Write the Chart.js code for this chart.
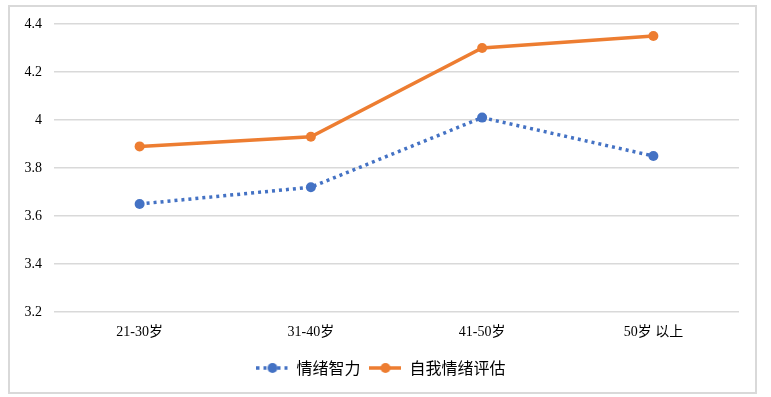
<!DOCTYPE html>
<html>
<head>
<meta charset="utf-8">
<script src="https://cdn.jsdelivr.net/npm/chart.js@4/dist/chart.umd.min.js"></script>
<style>
  html, body { margin: 0; padding: 0; background: #fff; }
  #wrap { position: relative; width: 771px; height: 397px; }
</style>
</head>
<body>
<div id="wrap"><canvas id="myChart" width="771" height="397"></canvas></div>
<script>
// data
var categories = ['21-30岁', '31-40岁', '41-50岁', '50岁 以上'];
var emotionalIntel = [3.65, 3.72, 4.01, 3.85];
var selfAssessment = [3.89, 3.93, 4.30, 4.35];
var yTicks = [3.2, 3.4, 3.6, 3.8, 4, 4.2, 4.4];

var BLUE = '#4472c4';
var ORANGE = '#ed7d31';
var SERIF = '"Liberation Serif", "Noto Sans CJK SC", serif';
var SANS = '"Noto Sans CJK SC", sans-serif';

// little line+dot sample used as the legend symbol
function legendIcon(color, dash){
  var c = document.createElement('canvas');
  c.width = 32; c.height = 12;
  var g = c.getContext('2d');
  g.strokeStyle = color;
  g.lineWidth = 3.5;
  g.setLineDash(dash);
  g.beginPath();
  g.moveTo(0, 6);
  g.lineTo(32, 6);
  g.stroke();
  g.fillStyle = color;
  g.beginPath();
  g.arc(16, 6, 5, 0, Math.PI * 2);
  g.fill();
  return c;
}

var frame = {
  id: 'frame',
  beforeDraw: function(chart){
    var ctx = chart.ctx;
    ctx.save();
    ctx.fillStyle = '#fff';
    ctx.fillRect(0, 0, chart.width, chart.height);
    ctx.strokeStyle = '#d9d9d9';
    ctx.lineWidth = 2;
    ctx.strokeRect(9, 6, 747, 387);
    ctx.restore();
  }
};

var ctx = document.getElementById('myChart').getContext('2d');
var myChart = new Chart(ctx, {
  type: 'line',
  data: {
    labels: categories,
    datasets: [{
      label: '情绪智力',
      data: emotionalIntel,
      borderColor: BLUE,
      backgroundColor: BLUE,
      borderWidth: 3.5,
      borderDash: [3, 4],
      borderCapStyle: 'butt',
      pointRadius: 5,
      pointBorderWidth: 0,
      pointStyle: 'circle',
      tension: 0
    }, {
      label: '自我情绪评估',
      data: selfAssessment,
      borderColor: ORANGE,
      backgroundColor: ORANGE,
      borderWidth: 3.5,
      pointRadius: 5,
      pointBorderWidth: 0,
      pointStyle: 'circle',
      tension: 0
    }]
  },
  options: {
    responsive: false,
    animation: false,
    layout: { padding: { left: 23, right: 32, top: 24, bottom: 11 } },
    scales: {
      x: {
        offset: true,
        grid: { display: false, drawTicks: false },
        border: { display: false },
        ticks: { color: '#000', padding: 12, font: { family: SERIF, size: 14 } },
        afterFit: function(scale){ scale.height = 39; }
      },
      y: {
        min: 3.2,
        max: 4.4,
        afterBuildTicks: function(scale){
          scale.ticks = yTicks.map(function(v){ return { value: v }; });
        },
        grid: { color: '#d9d9d9', lineWidth: 1.5, drawTicks: false },
        border: { display: false },
        ticks: {
          color: '#000',
          padding: 12,
          font: { family: SERIF, size: 14 },
          callback: function(v){ return String(Math.round(v * 10) / 10); }
        },
        afterFit: function(scale){ scale.width = 31; }
      }
    },
    plugins: {
      tooltip: { enabled: false },
      legend: {
        position: 'bottom',
        labels: {
          color: '#000',
          font: { family: SANS, size: 16 },
          usePointStyle: true,
          pointStyleWidth: 32,
          boxHeight: 12,
          padding: 9,
          generateLabels: function(chart){
            return chart.data.datasets.map(function(ds, i){
              return {
                text: ds.label,
                pointStyle: legendIcon(ds.borderColor, ds.borderDash || []),
                fillStyle: ds.borderColor,
                strokeStyle: ds.borderColor,
                lineWidth: 0,
                datasetIndex: i
              };
            });
          }
        }
      }
    }
  },
  plugins: [frame]
});
</script>
</body>
</html>
